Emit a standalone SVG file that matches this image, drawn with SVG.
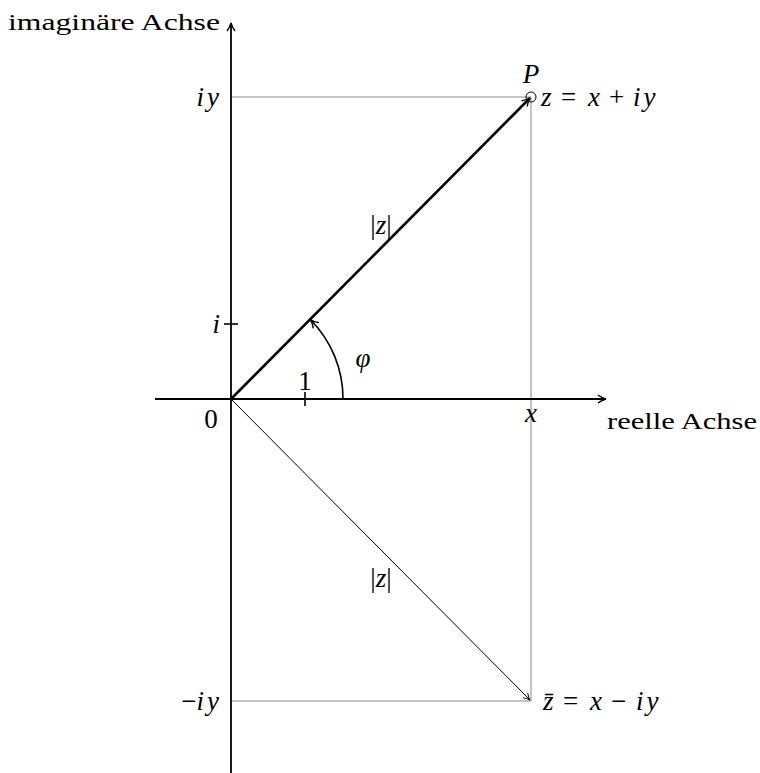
<svg xmlns="http://www.w3.org/2000/svg" width="760" height="773" viewBox="0 0 760 773" font-family="'Liberation Serif', 'DejaVu Serif', serif">
<defs>
<marker id="ah" viewBox="0 0 10 10" refX="9" refY="5" markerWidth="10" markerHeight="10" markerUnits="userSpaceOnUse" orient="auto">
<path d="M1,1 Q5,4 9,5 Q5,6 1,9" fill="none" stroke="#000" stroke-width="1.4"/>
</marker>
<marker id="ahs" viewBox="0 0 10 10" refX="9" refY="5" markerWidth="8" markerHeight="8" markerUnits="userSpaceOnUse" orient="auto">
<path d="M1,1 Q5,4 9,5 Q5,6 1,9" fill="none" stroke="#000" stroke-width="1.2"/>
</marker>
</defs>
<style>
text{font-family:"Liberation Serif","DejaVu Serif",serif;font-size:24px;fill:#000}
.m{font-style:italic}
.big{font-size:27px}
.sp{letter-spacing:3px}
.grey{stroke:#888;stroke-width:1;fill:none}
.axis{stroke:#000;stroke-width:1.8;fill:none}
</style>
<rect width="760" height="773" fill="#fff"/>
<g id="guides">
<line class="grey" x1="231" y1="97" x2="531" y2="97"/>
<line class="grey" x1="531" y1="97" x2="531" y2="701"/>
<line class="grey" x1="231" y1="701" x2="531" y2="701"/>
</g>
<g id="connectors">
<line class="axis" x1="155" y1="399" x2="606" y2="399" marker-end="url(#ah)"/>
<line class="axis" x1="231" y1="773" x2="231" y2="23" marker-end="url(#ah)"/>
<line x1="231" y1="399" x2="530" y2="98" stroke="#000" stroke-width="2.6" marker-end="url(#ah)"/>
<line x1="231" y1="399" x2="530" y2="700" stroke="#000" stroke-width="1" marker-end="url(#ahs)"/>
<path d="M343,399 A112,112 0 0 0 310.5,319.8" fill="none" stroke="#000" stroke-width="1.6" marker-end="url(#ah)"/>
<line x1="305" y1="392" x2="305" y2="406" stroke="#000" stroke-width="1.6"/>
<line x1="224" y1="324" x2="238" y2="324" stroke="#000" stroke-width="1.6"/>
</g>
<g id="P">
<circle cx="531" cy="97" r="5" fill="none" stroke="#000" stroke-width="1"/>
<text class="m big" x="531" y="83" text-anchor="middle">P</text>
<text class="big" y="106"><tspan class="m" x="541">z</tspan><tspan x="561">=</tspan><tspan class="m" x="588">x</tspan><tspan x="609">+</tspan><tspan class="m sp" x="633">iy</tspan></text>
</g>
<g id="Pbar">
<text class="big" y="710"><tspan class="m" x="543">z̄</tspan><tspan x="563">=</tspan><tspan class="m" x="590">x</tspan><tspan x="611">−</tspan><tspan class="m sp" x="636">iy</tspan></text>
</g>
<g id="labels">
<text x="8" y="30" textLength="212" lengthAdjust="spacingAndGlyphs">imaginäre Achse</text>
<text x="607" y="429" textLength="150" lengthAdjust="spacingAndGlyphs">reelle Achse</text>
<text class="m big sp" x="222" y="106" text-anchor="end">iy</text>
<text class="big" x="222" y="710" text-anchor="end">−<tspan class="m sp">iy</tspan></text>
<text class="m big" x="220" y="333" text-anchor="end">i</text>
<text class="big" x="211" y="428" text-anchor="middle">0</text>
<text class="big" x="305" y="390" text-anchor="middle">1</text>
<text class="m big" x="531" y="422" text-anchor="middle">x</text>
<text class="m big" x="363" y="367" text-anchor="middle">φ</text>
<text class="big" x="381" y="234" text-anchor="middle">|<tspan class="m">z</tspan>|</text>
<text class="big" x="381" y="587" text-anchor="middle">|<tspan class="m">z</tspan>|</text>
</g>
</svg>
